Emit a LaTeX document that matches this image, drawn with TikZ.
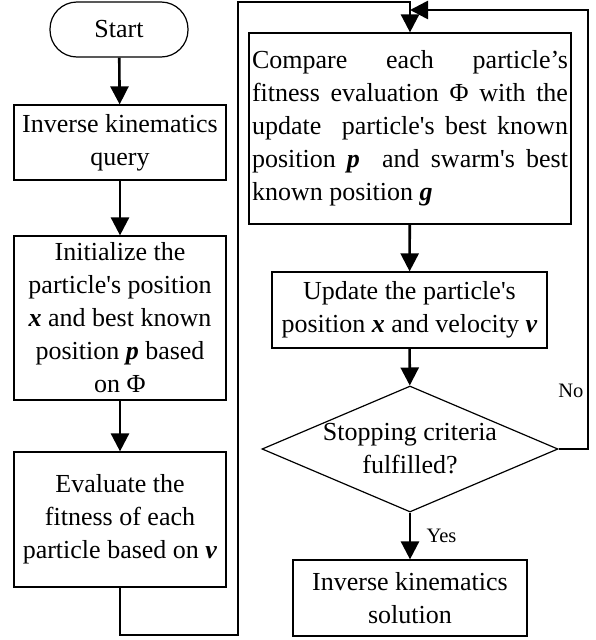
\documentclass[tikz,border=0pt]{standalone}
\usepackage{fontspec}
\setmainfont{Liberation Serif}
\usepackage{tikz}
\usetikzlibrary{arrows.meta,positioning,shapes}

\newcommand{\bivar}[1]{\textbf{\textit{#1}}}
\newcommand{\apos}{\textquotesingle}

\tikzset{
  box/.style={draw, line width=1.2pt, align=center, inner sep=2pt, font=\fontsize{26}{33}\selectfont},
  pill/.style={box, rounded corners=27pt},
  decision/.style={draw, diamond, line width=1.2pt, aspect=2.35, inner xsep=0pt, inner ysep=-7pt,
    minimum width=296pt, minimum height=126pt, align=center, font=\fontsize{26}{33}\selectfont},
  flow/.style={line width=2.6pt, -{Triangle[length=18pt,width=18pt]}},
  tag/.style={font=\fontsize{20.5}{24}\selectfont}
}

\begin{document}
\begin{tikzpicture}[x=1pt,y=1pt]
\useasboundingbox (0,0) rectangle (595,-640);

% left column
\node[pill, minimum width=138pt, minimum height=55pt] (start) at (119,-29.5) {Start};
\node[box, minimum width=212pt, minimum height=75pt] (query) at (120,-142.5) {Inverse kinematics\\query};
\node[box, minimum width=212pt, minimum height=164pt] (init) at (120,-318)
  {Initialize the\\particle\apos s position\\\bivar{x} and best known\\position \bivar{p} based\\on Φ};
\node[box, minimum width=212pt, minimum height=135pt] (eval) at (120,-519.5)
  {Evaluate the\\fitness of each\\particle based on \bivar{v}};

% right column
\node[box, align=justify, text width=316pt, inner xsep=3pt, minimum height=191pt] (compare) at (410,-128.5)
  {Compare each particle’s\linebreak fitness evaluation Φ with the\linebreak update\ \ particle\apos s best known\linebreak position \bivar{p}\ \ and swarm\apos s best\linebreak known position \bivar{g}};
\node[box, minimum width=275pt, minimum height=76pt] (update) at (409.5,-310)
  {Update the particle\apos s\\position \bivar{x} and velocity \bivar{v}};
\node[decision] (stop) at (410,-449) {Stopping criteria\\fulfilled?};
\node[box, minimum width=234pt, minimum height=76pt] (solution) at (410,-598)
  {Inverse kinematics\\solution};

\coordinate (lb) at (238,-635);
\coordinate (lt) at (238,-2);
\coordinate (rt) at (588,-10);

% connectors
\draw[flow] (start) -- (query);
\draw[flow] (query) -- (init);
\draw[flow] (init) -- (eval);
\draw[flow] (eval.south) |- (lb) -- (lt) -| (compare.north);
\draw[flow] (compare) -- (update);
\draw[flow] (update) -- (stop);
\draw[flow] (stop) -- node[tag, right=12pt] {Yes} (solution);
\draw[flow] (stop.east) -| (rt) node[tag, pos=0.566, left] {No} -- (compare.north |- rt);
\end{tikzpicture}
\end{document}
